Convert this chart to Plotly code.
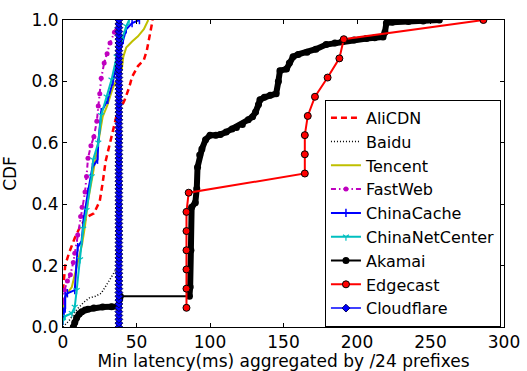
import plotly.graph_objects as go

# ---------------- data ----------------
alicdn_x = [0, 1.5, 4, 8, 12, 17, 21, 25, 27, 29, 32, 35, 37, 40, 42, 45, 47, 51, 55, 57, 59, 61]
alicdn_y = [0.12, 0.2, 0.24, 0.29, 0.33, 0.36, 0.37, 0.41, 0.47, 0.54, 0.6, 0.66, 0.7, 0.72, 0.74, 0.78, 0.815, 0.85, 0.87, 0.9, 0.95, 1.0]

baidu_x = [0, 4, 7, 10, 14, 18, 22, 26, 30, 34, 37, 38, 38.2]
baidu_y = [0.0, 0.02, 0.04, 0.06, 0.08, 0.095, 0.1, 0.11, 0.14, 0.17, 0.195, 0.25, 1.0]

tencent_x = [0, 1, 3, 6, 8, 10, 13, 15, 17, 20, 23, 25, 27, 30, 34, 37, 40, 41, 43, 47, 51, 55, 58]
tencent_y = [0.03, 0.09, 0.11, 0.13, 0.17, 0.21, 0.27, 0.33, 0.41, 0.49, 0.57, 0.63, 0.685, 0.72, 0.78, 0.81, 0.84, 0.88, 0.91, 0.93, 0.947, 0.97, 1.0]

fastweb_x = [0, 1, 3, 5, 7, 8, 10, 12, 13, 15, 16, 17, 19, 21, 23, 24, 25, 26, 28, 30, 32, 35, 37.5]
fastweb_y = [0.08, 0.12, 0.15, 0.17, 0.21, 0.24, 0.3, 0.36, 0.39, 0.44, 0.49, 0.55, 0.59, 0.62, 0.67, 0.72, 0.76, 0.81, 0.86, 0.89, 0.925, 0.96, 1.0]

chinacache_x = [0, 0.5, 1.5, 1.5, 3, 8, 9, 10, 12.7, 14, 17, 20, 23.5, 24, 26, 30.5, 34, 37.5, 41, 43, 47, 52]
chinacache_y = [0.02, 0.05, 0.06, 0.1, 0.11, 0.12, 0.19, 0.26, 0.28, 0.35, 0.44, 0.52, 0.545, 0.6, 0.7, 0.74, 0.8, 0.88, 0.935, 0.97, 0.99, 1.0]

chinanet_x = [0, 1.4, 6, 8, 9.3, 11.6, 13.7, 16, 19.5, 20.5, 24, 26, 29.7, 33, 36.5, 40, 43, 45]
chinanet_y = [0.02, 0.035, 0.045, 0.065, 0.12, 0.22, 0.32, 0.38, 0.49, 0.545, 0.6, 0.69, 0.75, 0.805, 0.88, 0.935, 0.98, 1.0]

akamai_x = [7, 8, 9.3, 11, 12.7, 15, 17, 21, 27, 33, 37.5, 38.5, 39,
            86, 86.5, 87, 87.5, 90, 91, 91.5, 93, 94.5, 97, 100, 104, 107, 111, 115, 118,
            122, 126, 129, 131, 133, 134, 137, 141, 145, 146.5, 147.6, 152, 154, 156.5,
            160, 166, 172, 179, 185, 190, 198, 206.5, 212, 217.7, 219, 220, 224, 235, 245, 256]
akamai_y = [0.0, 0.015, 0.03, 0.042, 0.05, 0.055, 0.058, 0.062, 0.065, 0.066, 0.067, 0.09, 0.1,
            0.1, 0.13, 0.25, 0.39, 0.405, 0.45, 0.52, 0.56, 0.58, 0.61, 0.625, 0.625, 0.627, 0.635, 0.645, 0.65,
            0.66, 0.675, 0.685, 0.7, 0.725, 0.74, 0.748, 0.755, 0.76, 0.8, 0.835, 0.84, 0.86, 0.88,
            0.888, 0.895, 0.905, 0.92, 0.925, 0.93, 0.935, 0.94, 0.942, 0.945, 0.96, 0.99, 0.993, 0.995, 0.997, 1.0]
akamai_gap_after = 13  # sparse jump between 39 ms and 86 ms

edgecast_x = [84, 84, 84, 84, 84, 84, 85.5, 164.5, 164.5, 164.5, 166.5, 171.4, 180, 188, 191, 286]
edgecast_y = [0.0625, 0.125, 0.1875, 0.25, 0.3125, 0.375, 0.4375, 0.5, 0.5625, 0.625, 0.6875, 0.75, 0.8125, 0.875, 0.9375, 1.0]

cloudflare_y = [0.0, 0.0125, 0.025, 0.0375, 0.05, 0.0625, 0.075, 0.0875, 0.1, 0.1125, 0.125, 0.1375, 0.15, 0.1625,
                0.175, 0.1875, 0.2, 0.2125, 0.225, 0.2375, 0.25, 0.2625, 0.275, 0.2875, 0.3, 0.3125, 0.325, 0.3375,
                0.35, 0.3625, 0.375, 0.3875, 0.4, 0.4125, 0.425, 0.4375, 0.45, 0.4625, 0.475, 0.4875, 0.5, 0.5125,
                0.525, 0.5375, 0.55, 0.5625, 0.575, 0.5875, 0.6, 0.6125, 0.625, 0.6375, 0.65, 0.6625, 0.675, 0.6875,
                0.7, 0.7125, 0.725, 0.7375, 0.75, 0.7625, 0.775, 0.7875, 0.8, 0.8125, 0.825, 0.8375, 0.85, 0.8625,
                0.875, 0.8875, 0.9, 0.9125, 0.925, 0.9375, 0.95, 0.9625, 0.975, 0.9875, 1.0]
cloudflare_latency = 38.0
cloudflare_x = [cloudflare_latency] * len(cloudflare_y)

x_ticks = [0, 50, 100, 150, 200, 250, 300]
y_ticks = [0.0, 0.2, 0.4, 0.6, 0.8, 1.0]
y_tick_labels = ["0.0", "0.2", "0.4", "0.6", "0.8", "1.0"]

FONT = "DejaVu Sans"
FS = 17

fig = go.Figure()

def add(name, x, y, **kw):
    fig.add_trace(go.Scatter(x=x, y=y, name=name, legendgroup=name, **kw))

add("AliCDN", alicdn_x, alicdn_y, mode="lines",
    line=dict(color="#ff0000", width=2.5, dash="6px,4px"))
add("Baidu", baidu_x, baidu_y, mode="lines",
    line=dict(color="#000000", width=1.5, dash="1px,2px"))
add("Tencent", tencent_x, tencent_y, mode="lines",
    line=dict(color="#bfbf00", width=2))
add("FastWeb", fastweb_x, fastweb_y, mode="lines+markers",
    line=dict(color="#bf00bf", width=2, dash="5px,3px,1.5px,3px"),
    marker=dict(symbol="circle", size=5, color="#bf00bf"))
add("ChinaCache", chinacache_x, chinacache_y, mode="lines+markers",
    line=dict(color="#0000ff", width=2),
    marker=dict(symbol="line-ns", size=6, color="#0000ff", line=dict(color="#0000ff", width=1.5)))
add("ChinaNetCenter", chinanet_x, chinanet_y, mode="lines+markers",
    line=dict(color="#00bfbf", width=2),
    marker=dict(symbol="y-down", size=5, color="#00bfbf", line=dict(color="#00bfbf", width=1.2)))

halo_x = akamai_x[:akamai_gap_after] + [None] + akamai_x[akamai_gap_after:]
halo_y = akamai_y[:akamai_gap_after] + [None] + akamai_y[akamai_gap_after:]
fig.add_trace(go.Scatter(x=halo_x, y=halo_y, mode="lines", showlegend=False, legendgroup="Akamai",
                         line=dict(color="#000000", width=6), hoverinfo="skip"))
add("Akamai", akamai_x, akamai_y, mode="lines+markers",
    line=dict(color="#000000", width=2),
    marker=dict(symbol="circle", size=7, color="#000000"))
add("Edgecast", edgecast_x, edgecast_y, mode="lines+markers",
    line=dict(color="#ff0000", width=2),
    marker=dict(symbol="circle", size=7, color="#ff0000", line=dict(color="#000000", width=1)))
add("Cloudflare", cloudflare_x, cloudflare_y, mode="lines+markers",
    line=dict(color="#0000ff", width=1.5),
    marker=dict(symbol="diamond", size=6, color="#0000ff", line=dict(color="#000060", width=1)))

axis_common = dict(
    showline=True, linecolor="#000000", linewidth=1, mirror="ticks",
    ticks="inside", ticklen=4, tickwidth=1, tickcolor="#000000",
    showgrid=False, zeroline=False, automargin=False,
    tickfont=dict(family=FONT, size=FS, color="#000000"),
)

fig.update_layout(
    width=527, height=371,
    margin=dict(l=63, r=23, t=20, b=44),
    paper_bgcolor="white", plot_bgcolor="white",
    font=dict(family=FONT, size=FS, color="#000000"),
    xaxis=dict(range=[0, 300], tickvals=x_ticks,
               title=dict(text="Min latency(ms) aggregated by /24 prefixes",
                          font=dict(family=FONT, size=FS)),
               **axis_common),
    yaxis=dict(range=[0, 1.0], tickvals=y_ticks, ticktext=y_tick_labels,
               title=dict(text="CDF", font=dict(family=FONT, size=FS)),
               **axis_common),
    legend=dict(x=0.594, y=0.74, xanchor="left", yanchor="top",
                bgcolor="white", bordercolor="#000000", borderwidth=1,
                font=dict(family=FONT, size=16), traceorder="grouped",
                tracegroupgap=0, itemwidth=30),
    showlegend=True,
)

fig.write_html("out.html")
